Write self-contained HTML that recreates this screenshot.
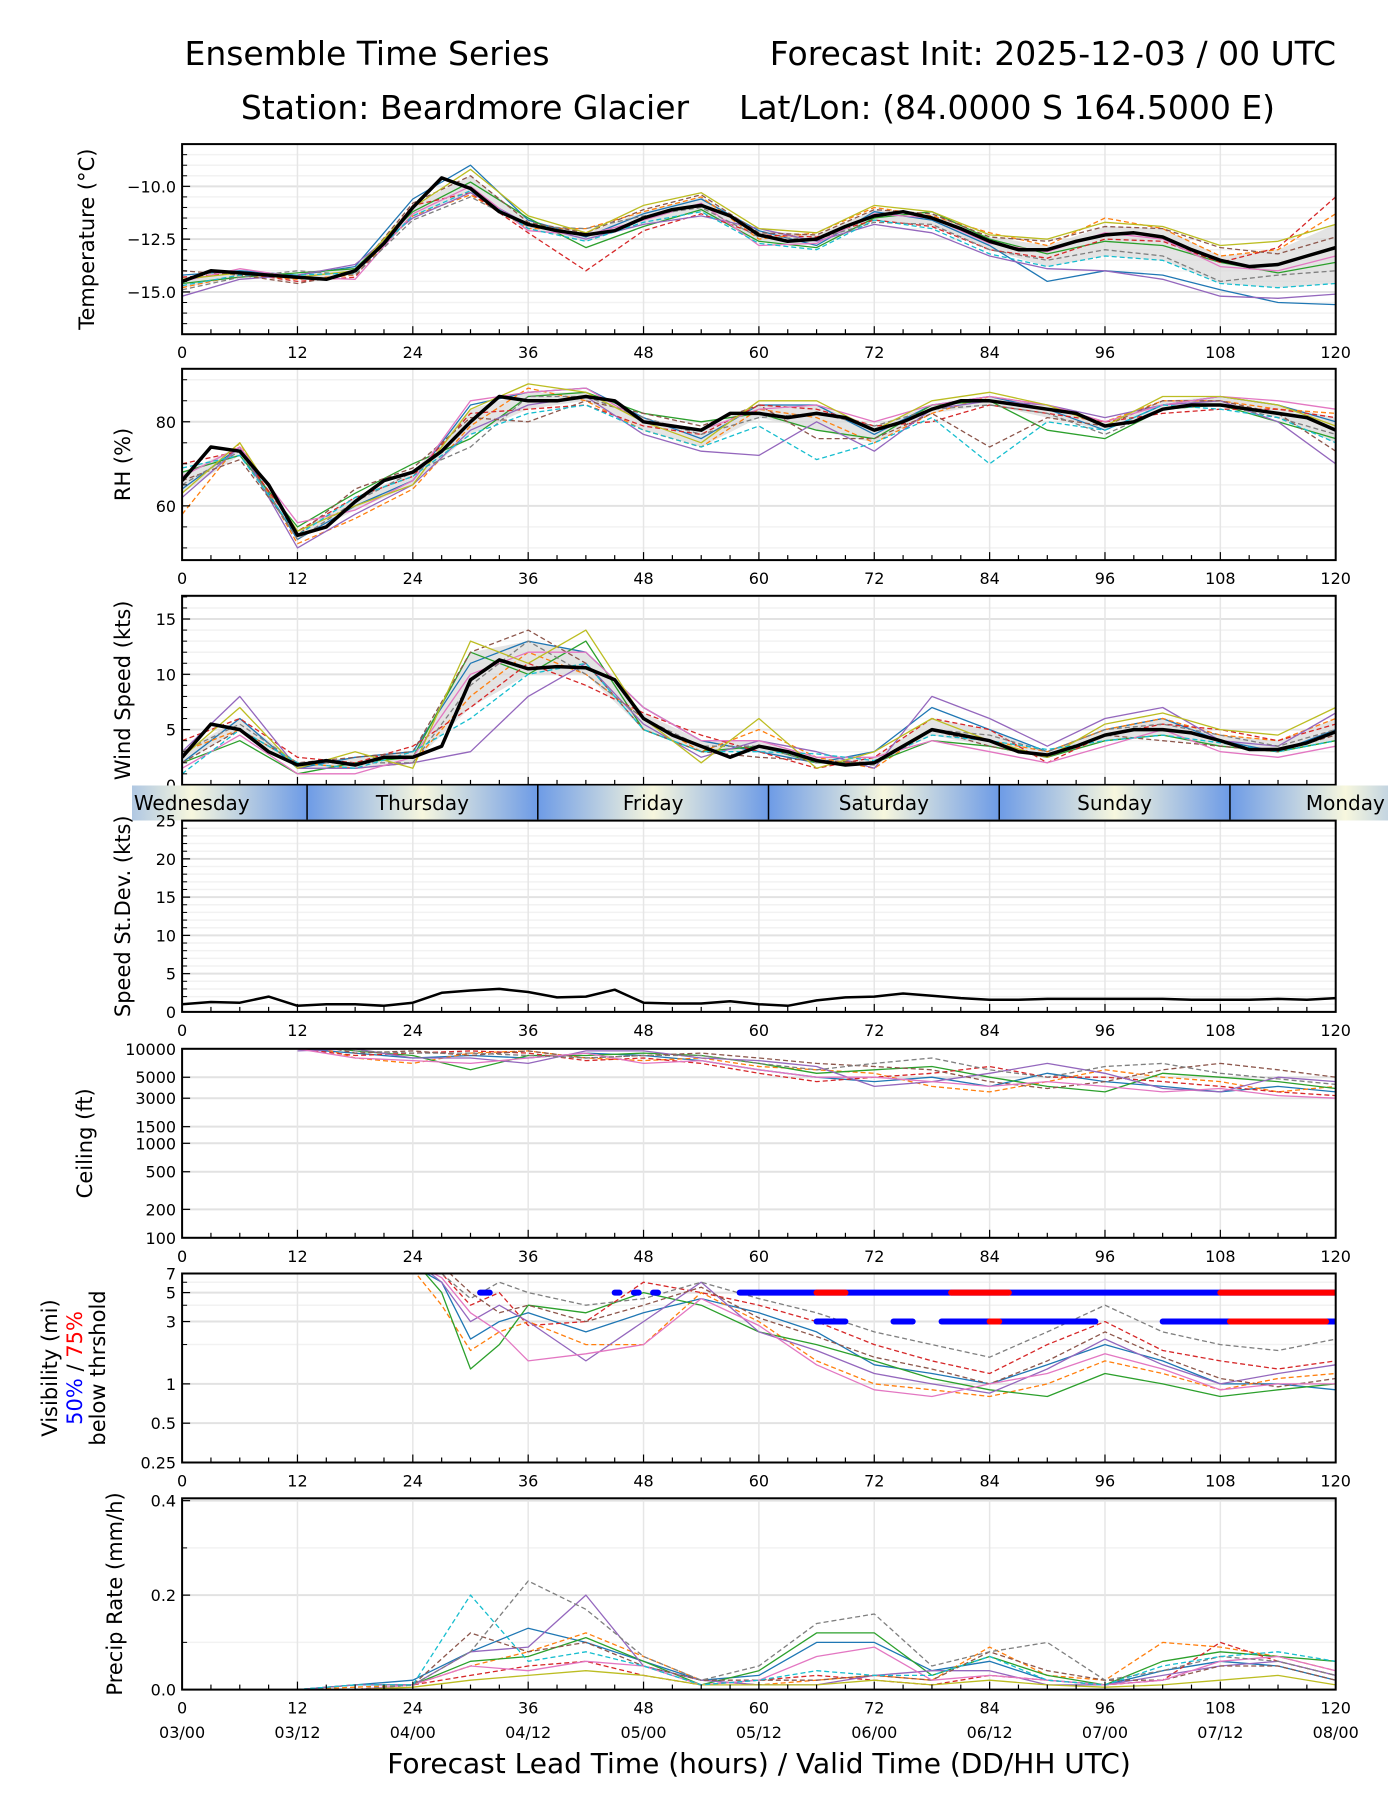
<!DOCTYPE html>
<html><head><meta charset="utf-8"><style>
body{margin:0;background:#fff}
svg text{font-family:"DejaVu Sans","Liberation Sans",sans-serif}
</style></head><body>
<svg id="c" width="1400" height="1800" viewBox="0 0 1400 1800" xmlns="http://www.w3.org/2000/svg">
<defs>
<linearGradient id="dayg" x1="0" x2="1" y1="0" y2="0">
<stop offset="0" stop-color="#6d9be6"/><stop offset="0.5" stop-color="#f7f7de"/><stop offset="1" stop-color="#6d9be6"/>
</linearGradient>
</defs>
<text x="367" y="65" font-size="33" text-anchor="middle">Ensemble Time Series</text>
<text x="1336" y="65" font-size="33" text-anchor="end">Forecast Init: 2025-12-03 / 00 UTC</text>
<text x="465" y="119" font-size="33" text-anchor="middle">Station: Beardmore Glacier</text>
<text x="1007" y="119" font-size="33" text-anchor="middle">Lat/Lon: (84.0000 S 164.5000 E)</text>
<g id="plots"></g>
</svg>
<script>
const colors=["#1f77b4","#ff7f0e","#2ca02c","#d62728","#9467bd","#8c564b","#e377c2","#7f7f7f","#bcbd22","#17becf"];
// ---- data (hours) ----
const hours3=[0,3,6,9,12,15,18,21,24,27,30,33,36,39,42,45,48,51,54,57,60,63,66,69,72,75,78,81,84,87,90,93,96,99,102,105,108,111,114,117,120];
const hours6=[0,6,12,18,24,30,36,42,48,54,60,66,72,78,84,90,96,102,108,114,120];
const tempMean=[-14.5,-14.0,-14.1,-14.2,-14.3,-14.4,-14.0,-12.7,-11.0,-9.6,-10.1,-11.2,-11.8,-12.1,-12.3,-12.1,-11.5,-11.1,-10.9,-11.4,-12.3,-12.6,-12.5,-11.9,-11.4,-11.2,-11.5,-12.0,-12.6,-13.0,-13.0,-12.6,-12.3,-12.2,-12.4,-13.0,-13.5,-13.8,-13.7,-13.3,-12.9];
const tempMembers=[
[-14.2,-14.0,-14.2,-13.8,-10.6,-9.0,-11.6,-12.4,-11.3,-10.6,-12.1,-12.8,-11.2,-11.6,-12.8,-14.5,-14.0,-14.2,-14.9,-15.5,-15.6],
[-14.8,-14.2,-14.4,-14.2,-11.4,-10.4,-12.0,-12.0,-11.2,-10.5,-12.5,-12.2,-11.0,-11.4,-12.2,-12.8,-11.5,-12.0,-13.3,-13.0,-11.3],
[-14.6,-14.3,-14.1,-13.9,-11.2,-9.8,-11.5,-12.9,-11.9,-11.1,-12.6,-12.9,-11.5,-11.2,-12.5,-13.2,-12.6,-12.8,-13.6,-14.1,-13.6],
[-14.3,-14.1,-14.5,-14.3,-10.9,-10.3,-12.2,-14.0,-12.1,-11.3,-12.3,-12.4,-11.6,-11.9,-13.0,-13.4,-12.5,-12.6,-13.6,-12.9,-10.5],
[-15.2,-14.4,-14.2,-13.7,-11.5,-10.3,-11.8,-12.5,-11.8,-11.4,-12.0,-12.6,-11.8,-12.2,-13.3,-13.9,-14.0,-14.4,-15.2,-15.3,-15.1],
[-14.0,-14.2,-14.6,-14.1,-10.8,-9.5,-11.7,-12.2,-11.1,-10.4,-12.2,-12.3,-11.1,-11.3,-12.4,-12.6,-11.9,-12.0,-12.9,-13.2,-12.4],
[-14.5,-13.9,-14.3,-14.4,-11.3,-10.0,-12.1,-12.3,-11.6,-10.8,-12.8,-12.7,-11.3,-11.5,-12.7,-13.1,-12.2,-12.5,-13.8,-14.0,-13.3],
[-14.9,-14.3,-14.0,-14.2,-11.6,-10.5,-11.9,-12.0,-11.4,-11.0,-12.4,-12.5,-11.7,-11.8,-13.0,-13.5,-13.0,-13.3,-14.5,-14.2,-14.0],
[-14.4,-14.1,-14.3,-14.0,-11.0,-9.2,-11.4,-12.2,-10.9,-10.3,-12.0,-12.2,-10.9,-11.2,-12.3,-12.5,-11.7,-11.9,-12.8,-12.6,-11.8],
[-14.7,-14.2,-14.2,-14.1,-11.4,-10.2,-12.0,-12.6,-11.7,-11.2,-12.7,-13.0,-11.6,-12.0,-13.2,-13.8,-13.3,-13.5,-14.6,-14.8,-14.6]];
const rhMean=[66,74,73,65,53,55,61,66,68,73,80,86,85,85,86,85,80,79,78,82,82,81,82,81,78,80,83,85,85,84,83,82,79,80,83,84,84,83,82,81,78];
const rhMembers=[
[64,74,52,60,66,84,87,88,81,76,84,84,77,84,86,83,78,84,86,84,80],
[58,75,51,57,64,79,88,85,78,74,83,81,75,82,86,84,80,85,85,83,82],
[68,72,55,63,70,76,86,87,82,80,82,78,76,84,85,78,76,83,84,80,76],
[70,73,54,62,67,82,83,84,79,77,84,83,79,80,84,82,80,82,83,83,81],
[62,74,50,58,65,78,84,86,77,73,72,80,73,83,85,84,81,84,85,80,70],
[66,71,53,64,69,81,80,85,82,79,84,76,76,82,74,81,79,85,85,82,73],
[67,74,56,59,66,85,87,88,80,78,83,84,80,84,86,84,80,84,86,85,83],
[65,73,52,61,68,74,86,86,81,77,81,82,79,83,84,82,77,83,84,81,77],
[63,75,54,60,65,83,89,87,80,75,85,85,78,85,87,84,79,86,86,84,79],
[69,72,53,62,67,77,82,84,78,74,79,71,75,81,70,80,78,84,83,81,75]];
const windMean=[2.5,5.5,5,3,1.8,2.2,1.8,2.5,2.5,3.5,9.5,11.3,10.5,10.7,10.6,9.5,6,4.5,3.5,2.5,3.5,3,2.2,1.8,2,3.5,5,4.5,4,3,2.7,3.5,4.5,5,5,4.7,4,3.2,3.2,3.8,4.8];
const windMembers=[
[2,6,1.5,2.5,3,11,13,12,7,4,3,2,3,7,5,3,5,6,4,3,5],
[3,5,2,1.5,2,8,12,10,6,3,5,2.5,1.5,5,4,3,5,6,4.5,4,6],
[2,4,1,2,2.5,12,10,13,5,3,3.5,2,2,4,3.5,2.5,4,4.5,3.5,3,4],
[4,6,2.5,2,3.5,7,11,9,6.5,4.5,3,1.5,2.5,6,5,2,4.5,5.5,5,4,5.5],
[3,8,1.5,1.5,2,3,8,11,5.5,2.5,4,3,1.5,8,6,3.5,6,7,4,3.5,6.5],
[2,5,2,2.5,3,12,14,11,5,3,2.5,2.2,2,5,3.5,2.5,4.5,4,3.5,3,4.5],
[1.5,4.5,1,1,2.5,10,12,12,7,4,4,2.5,2.5,4,3,2,3.5,5,3,2.5,3.5],
[3,5.5,2,2,2,9,13,10,6,3.5,3.5,2,1.8,5,4.5,3,5,5.5,4.5,3.5,5],
[2.5,7,1.5,3,1.5,13,11,14,6,2,6,1.5,3,6,4,2.5,5.5,6.5,5,4.5,7],
[1,5,2,1.5,3,6,10,11,5,3,3,2.8,2.2,4.5,4,3.2,4,4.5,3.8,3,4]];
const sdMean=[1.0,1.3,1.2,2.0,0.8,1.0,1.0,0.8,1.2,2.5,2.8,3.0,2.6,1.9,2.0,2.9,1.2,1.1,1.1,1.4,1.0,0.8,1.5,1.9,2.0,2.4,2.1,1.8,1.6,1.6,1.7,1.7,1.7,1.7,1.7,1.6,1.6,1.6,1.7,1.6,1.8];
const ceilHours=[12,18,24,30,36,42,48,54,60,66,72,78,84,90,96,102,108,114,120];
const ceilMembers=[
[10000,9000,8000,8500,8000,9000,8500,7500,6000,5000,4500,5000,4000,5500,4500,4000,3500,4000,3500],
[12000,8000,7000,9000,9500,8000,7500,8000,6500,6000,5500,4000,3500,4500,6000,5000,4500,3500,4000],
[11000,9500,8500,6000,8500,8500,9000,8500,7000,5500,6000,6500,5000,4000,3500,5500,5000,4500,3800],
[10000,8500,9000,9500,9000,7500,8000,7000,5500,4500,5000,5500,6500,5000,5000,4500,4000,3500,3200],
[9500,10000,8000,8000,7000,9500,9500,8000,7500,6500,4000,4500,5500,7000,5500,3800,3500,5000,4500],
[12000,9000,9500,8500,9500,8000,8500,9000,8000,7000,6500,6000,4500,3800,4500,6000,7000,6000,5000],
[10000,8000,7500,7000,8000,9000,7000,7500,6000,5000,5000,4500,4000,4500,4000,3500,3800,3200,3000],
[11000,9500,9000,9000,8500,8000,8500,8500,7000,6000,7000,8000,6000,5000,6500,7000,5500,4800,4200]];
const visHours=[24,27,30,33,36,42,48,54,60,66,72,78,84,90,96,102,108,114,120];
const visMembers=[
[8,6,2.2,3,3.5,2.5,3.5,4.5,3.5,2.5,1.4,1.2,1,1.4,2,1.5,1,1,0.9],
[7.5,4,1.8,2.5,3,2,2,5,3,1.5,1,0.9,0.8,1,1.5,1.2,0.9,1.1,1.2],
[9,5,1.3,2,4,3.5,5,4,2.5,2,1.5,1.1,0.9,0.8,1.2,1,0.8,0.9,1],
[8,7,4,5,2.8,3,6,5,4,3,2,1.5,1.2,2,3,1.8,1.5,1.3,1.5],
[9,6,3,4,3,1.5,3,6,2.5,1.8,1.2,1,0.85,1.3,2.2,1.4,1,1.2,1.4],
[9,8,5,3.5,4,3,4,5.5,3.2,2.3,1.6,1.3,1,1.5,2.5,1.6,1.1,0.95,1.1],
[8.5,6.5,3.5,2.5,1.5,1.7,2,4.5,2.8,1.4,0.9,0.8,1,1.2,1.7,1.3,0.9,1,1],
[9,7,4.5,6,5,4,4.5,6,4.5,3.5,2.5,2,1.6,2.5,4,2.5,2,1.8,2.2]];
const vis50at5=[[31,32],[45,45.5],[47,47.5],[49,49.5],[58,120]];
const vis75at5=[[66,69],[80,86],[108,120]];
const vis50at3=[[66,69],[74,76],[79,95],[102,120]];
const vis75at3=[[84,85],[109,119]];
const precipMembers=[
[0,0,0,0.01,0.02,0.08,0.13,0.1,0.06,0.02,0.03,0.1,0.1,0.04,0.06,0.02,0.01,0.04,0.06,0.05,0.02],
[0,0,0,0.005,0.01,0.05,0.08,0.12,0.07,0.02,0.01,0.02,0.03,0.02,0.09,0.03,0.02,0.1,0.09,0.07,0.04],
[0,0,0,0.01,0.01,0.06,0.07,0.11,0.06,0.01,0.04,0.12,0.12,0.03,0.07,0.03,0.01,0.06,0.08,0.07,0.06],
[0,0,0,0,0.01,0.03,0.05,0.06,0.03,0.01,0.02,0.03,0.02,0.01,0.03,0.02,0.01,0.02,0.1,0.06,0.03],
[0,0,0,0.01,0.01,0.08,0.09,0.2,0.05,0.02,0.01,0.01,0.03,0.04,0.04,0.01,0.01,0.03,0.05,0.06,0.03],
[0,0,0,0,0.01,0.12,0.08,0.1,0.05,0.02,0.02,0.02,0.03,0.02,0.08,0.04,0.02,0.02,0.05,0.05,0.02],
[0,0,0,0,0.01,0.05,0.04,0.06,0.05,0.01,0.02,0.07,0.09,0.02,0.03,0.02,0.01,0.02,0.06,0.07,0.04],
[0,0,0,0,0.01,0.08,0.23,0.17,0.07,0.02,0.05,0.14,0.16,0.05,0.08,0.1,0.02,0.04,0.07,0.06,0.03],
[0,0,0,0,0.005,0.02,0.03,0.04,0.03,0.01,0.01,0.01,0.02,0.01,0.02,0.01,0.005,0.01,0.02,0.03,0.01],
[0,0,0,0.01,0.01,0.2,0.06,0.08,0.05,0.01,0.02,0.04,0.03,0.03,0.07,0.02,0.01,0.05,0.07,0.08,0.06]];
const xTicks=[0,12,24,36,48,60,72,84,96,108,120];
const timeLabels=["03/00","03/12","04/00","04/12","05/00","05/12","06/00","06/12","07/00","07/12","08/00"];
const dayNames=["Wednesday","Thursday","Friday","Saturday","Sunday","Monday"];

// ---- helpers ----
const NS="http://www.w3.org/2000/svg";
const root=document.getElementById('plots');
const X0=182.1,X1=1335.7;
function x(h){return X0+(X1-X0)*h/120;}
function mk(tag,attrs,parent){const e=document.createElementNS(NS,tag);for(const k in attrs)e.setAttribute(k,attrs[k]);(parent||root).appendChild(e);return e;}
function linScale(lo,hi,top,bot){return v=>bot-(v-lo)/(hi-lo)*(bot-top);}
function logScale(lo,hi,top,bot){return v=>bot-(Math.log10(v)-Math.log10(lo))/(Math.log10(hi)-Math.log10(lo))*(bot-top);}

function panel(name,top,bot,y,yt,ylabels,minorY,showX){
  const g=mk('g',{});
  
  
  const cid='clip-'+name;
  const cp=mk('clipPath',{id:cid},g);mk('rect',{x:X0,y:top,width:X1-X0,height:bot-top},cp);
  minorY.forEach(v=>{mk('line',{x1:X0,x2:X1,y1:y(v),y2:y(v),stroke:'#f2f2f2','stroke-width':1.5},g);});
  yt.forEach(v=>{mk('line',{x1:X0,x2:X1,y1:y(v),y2:y(v),stroke:'#e2e2e2','stroke-width':2},g);});
  xTicks.forEach(h=>{mk('line',{x1:x(h),x2:x(h),y1:top,y2:bot,stroke:'#e6e6e6','stroke-width':1.5},g);});
  const data=mk('g',{'clip-path':'url(#'+cid+')'},g);
  for(let h=0;h<=120;h+=3){const maj=h%12==0;mk('line',{x1:x(h),x2:x(h),y1:bot,y2:bot-(maj?8:5),stroke:'#000','stroke-width':1.2},g);}
  yt.forEach((v,i)=>{mk('line',{x1:X0,x2:X0+8,y1:y(v),y2:y(v),stroke:'#000','stroke-width':1.2},g);
    const t=mk('text',{x:X0-6,y:y(v)+6,'font-size':16,'text-anchor':'end'},g);t.textContent=ylabels[i];
    
    });
  minorY.forEach(v=>{mk('line',{x1:X0,x2:X0+5,y1:y(v),y2:y(v),stroke:'#000','stroke-width':1},g);});
  if(showX){xTicks.forEach(h=>{const t=mk('text',{x:x(h),y:bot+24,'font-size':16,'text-anchor':'middle'},g);t.textContent=h;
    
    });}
  mk('rect',{x:X0,y:top,width:X1-X0,height:bot-top,fill:'none',stroke:'#000','stroke-width':2},g);
  return data;
}
function ylab(text,top,bot,xp,size){const t=mk('text',{x:0,y:0,'font-size':size||21,'text-anchor':'middle',transform:`translate(${xp},${(top+bot)/2}) rotate(-90)`});t.textContent=text;
  
  return t;}
function path(hs,vals,y,parent,stroke,w,dash,nm){
  const d=hs.map((h,i)=>(i?'L':'M')+x(h).toFixed(1)+','+y(vals[i]).toFixed(1)).join('');
  const p=mk('path',{d:d,fill:'none',stroke:stroke,'stroke-width':w,'stroke-linejoin':'round'},parent);
  if(dash)p.setAttribute('stroke-dasharray',dash);
  
  
  return p;
}
function band(hs,members,y,parent){
  const lo=[],hi=[];
  hs.forEach((h,i)=>{const c=members.map(m=>m[i]).sort((a,b)=>a-b);lo.push(c[Math.floor(c.length*0.25)]);hi.push(c[Math.ceil(c.length*0.75)-1]);});
  const d=hs.map((h,i)=>(i?'L':'M')+x(h)+','+y(hi[i])).join('')+hs.slice().reverse().map((h,j)=>'L'+x(h)+','+y(lo[hs.length-1-j])).join('')+'Z';
  const p=mk('path',{d:d,fill:'#d9d9d9','fill-opacity':0.7},parent);
  
  
}
function members(hs,ms,y,parent,nm){ms.forEach((m,i)=>path(hs,m,y,parent,colors[i%10],1.3,i%2?'5,3':null,nm+'-member-'+(i+1)));}

// Temperature
let T=[144.1,334.2];let yT=linScale(-17,-8,T[0],T[1]);
let d=panel('temperature',T[0],T[1],yT,[-10,-12.5,-15],['−10.0','−12.5','−15.0'],[-8.5,-9,-9.5,-10.5,-11,-11.5,-12,-13,-13.5,-14,-14.5,-15.5,-16,-16.5],true);
band(hours6,tempMembers,yT,d);members(hours6,tempMembers,yT,d,'temperature');path(hours3,tempMean,yT,d,'#000',3.5,null,'temperature-mean-line');
ylab('Temperature (°C)',T[0],T[1],94);
// RH
let R=[368.8,560.1];let yR=linScale(47.1,92.6,R[0],R[1]);
d=panel('rh',R[0],R[1],yR,[60,80],['60','80'],[50,55,65,70,75,85,90],true);
band(hours6,rhMembers,yR,d);members(hours6,rhMembers,yR,d,'rh');path(hours3,rhMean,yR,d,'#000',3.5,null,'rh-mean-line');
ylab('RH (%)',R[0],R[1],130);
// Wind
let W=[595.8,784.9];let yW=linScale(0,17.1,W[0],W[1]);
d=panel('wind',W[0],W[1],yW,[0,5,10,15],['0','5','10','15'],[1,2,3,4,6,7,8,9,11,12,13,14,16,17],false);
band(hours6,windMembers,yW,d);members(hours6,windMembers,yW,d,'wind');path(hours3,windMean,yW,d,'#000',3.5,null,'wind-mean-line');
ylab('Wind Speed (kts)',W[0],W[1],130);
// Day band
const dayG=mk('g',{});
const bounds=[-11,13,37,61,85,109,133];
for(let i=0;i<6;i++){
  mk('rect',{x:x(bounds[i]),y:785.5,width:x(bounds[i+1])-x(bounds[i]),height:35,fill:'url(#dayg)'},dayG);}
mk('rect',{x:0,y:785.5,width:132,height:35,fill:'#fff'},dayG);mk('rect',{x:1388,y:785.5,width:12,height:35,fill:'#fff'},dayG);
for(let i=0;i<6;i++){
  const t=mk('text',{x:(x(bounds[i])+x(bounds[i+1]))/2,y:810,'font-size':20,'text-anchor':'middle'},dayG);t.textContent=dayNames[i];
  
  }
[13,37,61,85,109].forEach(h=>mk('line',{x1:x(h),x2:x(h),y1:785.5,y2:820.6,stroke:'#000','stroke-width':1.5},dayG));
// StDev
let S=[820.6,1011.9];let yS=linScale(0,25,S[0],S[1]);
d=panel('stdev',S[0],S[1],yS,[0,5,10,15,20,25],['0','5','10','15','20','25'],[1,2,3,4,6,7,8,9,11,12,13,14,16,17,18,19,21,22,23,24],true);
path(hours3,sdMean,yS,d,'#000',2.5,null,'stdev-line');
ylab('Speed St.Dev. (kts)',S[0],S[1],130);
// Ceiling
let C=[1048.8,1237.8];let yC=logScale(100,10000,C[0],C[1]);
d=panel('ceiling',C[0],C[1],yC,[100,200,500,1000,1500,3000,5000,10000],['100','200','500','1000','1500','3000','5000','10000'],[],true);
members(ceilHours,ceilMembers,yC,d,'ceiling');
ylab('Ceiling (ft)',C[0],C[1],92);
// Visibility
let V=[1273.5,1462.5];let yV=logScale(0.25,7,V[0],V[1]);
d=panel('visibility',V[0],V[1],yV,[0.25,0.5,1,3,5,7],['0.25','0.5','1','3','5','7'],[2,4,6],true);
members(visHours,visMembers,yV,d,'visibility');
function segs(list,val,col,nm){list.forEach(s=>{const l=mk('line',{x1:x(s[0]),x2:x(s[1]),y1:yV(val),y2:yV(val),stroke:col,'stroke-width':6,'stroke-linecap':'round'},d);
  });}
segs(vis50at5,5,'#0000ff','vis-50pct-below-5mi');segs(vis75at5,5,'#ff0000','vis-75pct-below-5mi');
segs(vis50at3,3,'#0000ff','vis-50pct-below-3mi');segs(vis75at3,3,'#ff0000','vis-75pct-below-3mi');
ylab('Visibility (mi)',V[0],V[1],57);
let vt=ylab('',V[0],V[1],82);vt.innerHTML='<tspan fill="#0000ff">50%</tspan> / <tspan fill="#ff0000">75%</tspan>';
ylab('below thrshold',V[0],V[1],105);
// Precip
let P=[1498.3,1689.6];let yP=linScale(0,0.405,P[0],P[1]);
d=panel('precip',P[0],P[1],yP,[0,0.2,0.4],['0.0','0.2','0.4'],[0.1,0.3],true);
members(hours6,precipMembers,yP,d,'precip');
ylab('Precip Rate (mm/h)',P[0],P[1],122);
xTicks.forEach((h,i)=>{const t=mk('text',{x:x(h),y:1738,'font-size':16,'text-anchor':'middle'});t.textContent=timeLabels[i];
  
  });
const xl=mk('text',{x:759,y:1773,'font-size':28,'text-anchor':'middle'});xl.textContent='Forecast Lead Time (hours) / Valid Time (DD/HH UTC)';


</script>
</body></html>
